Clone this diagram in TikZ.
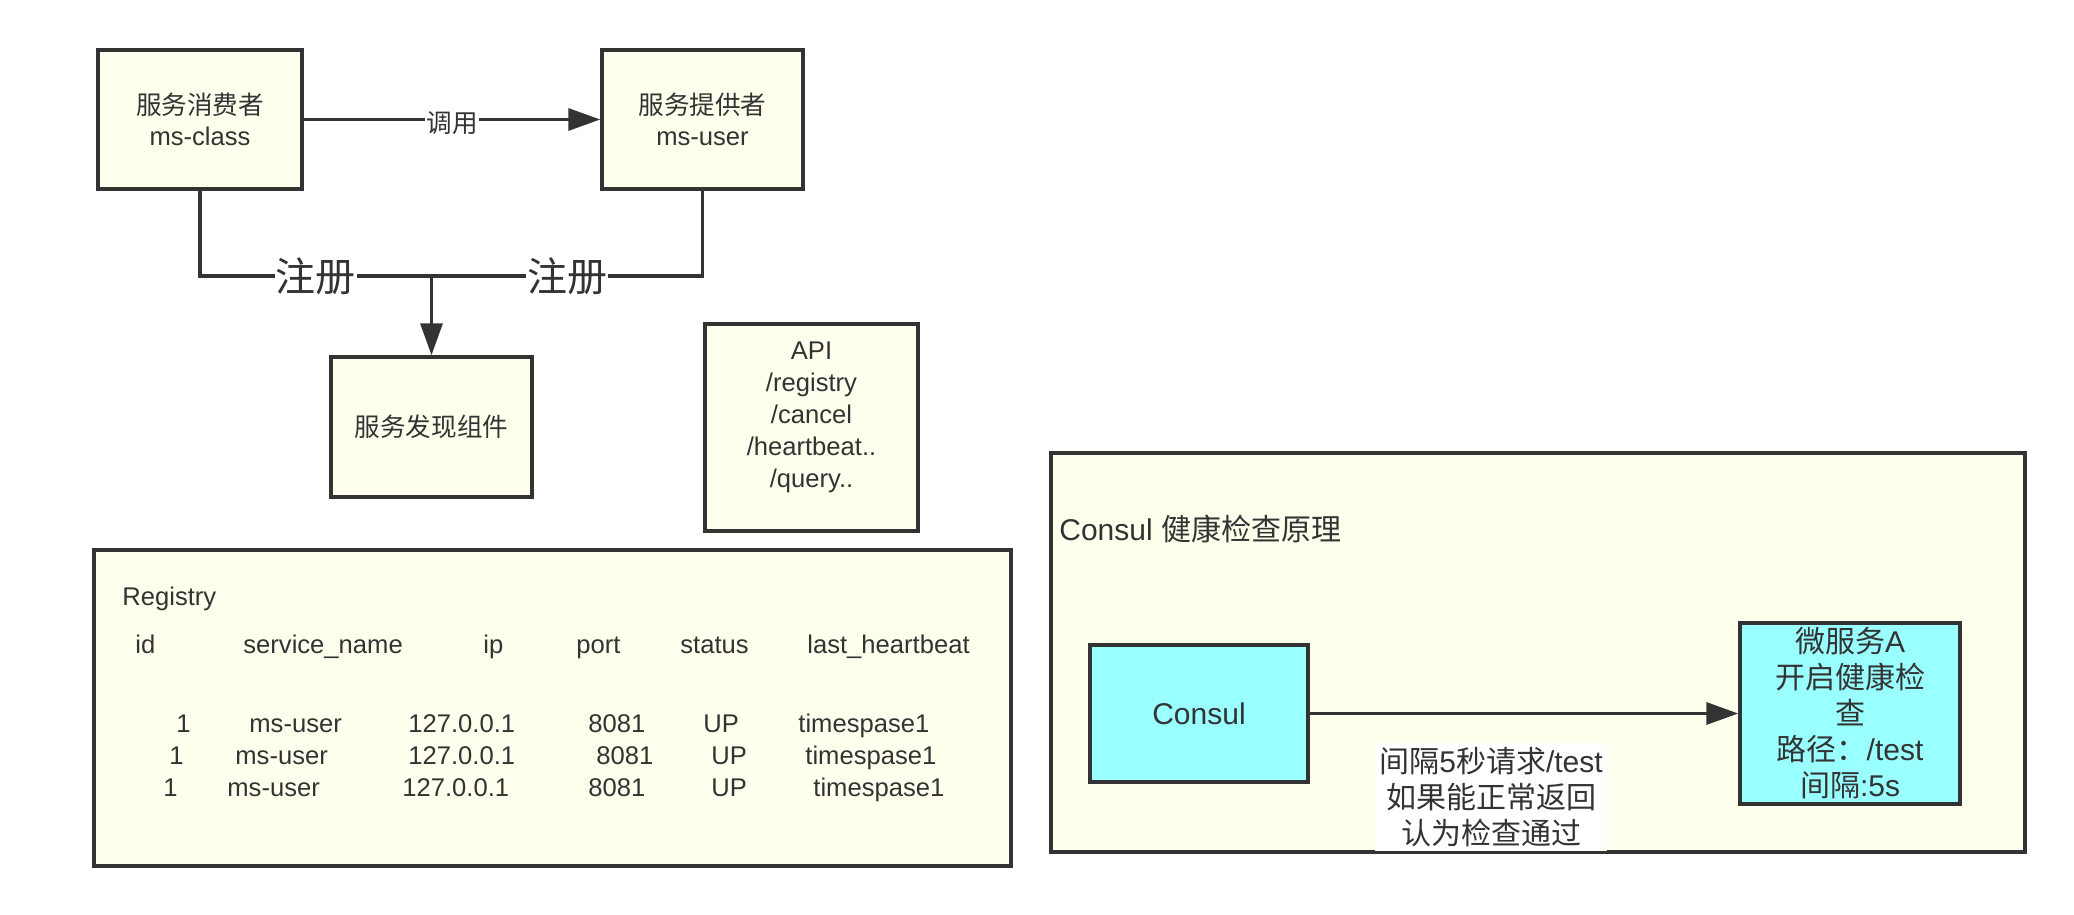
\documentclass[tikz,border=0pt]{standalone}
\usepackage{fontspec}
\setmainfont{Liberation Sans}
\newfontfamily\cjk{Noto Sans CJK SC}
\newcommand{\zh}[1]{{\cjk #1}}
\usetikzlibrary{arrows.meta}
\definecolor{boxfill}{HTML}{FFFFEE}
\definecolor{cyanfill}{HTML}{99FFFF}
\definecolor{linec}{HTML}{333333}
\definecolor{textc}{HTML}{333333}
\begin{document}
\begin{tikzpicture}[x=0.5pt,y=-0.5pt,
  box/.style={draw=linec, line width=1.75pt, fill=boxfill, align=center, text=textc,
    font=\fontsize{12.8pt}{15.5pt}\selectfont, inner sep=0pt},
  cbox/.style={box, fill=cyanfill, font=\fontsize{15pt}{18pt}\selectfont},
  conn/.style={draw=linec, line width=1.75pt},
  arr/.style={conn, -{Triangle[length=16pt,width=11pt]}},
  lab/.style={fill=white, text=textc, inner sep=0.5pt},
  tt/.style={text=textc, font=\fontsize{12.8pt}{15pt}\selectfont, inner sep=0pt, anchor=base west},
]
\useasboundingbox[fill=white] (0,0) rectangle (2074,915);

% top part
\node[box, minimum width=102pt, minimum height=69.5pt] (b1) at (200,119.5) {\zh{服务消费者}\\ms-class};
\node[box, minimum width=100.5pt, minimum height=69.5pt] (b2) at (702.5,119.5) {\zh{服务提供者}\\ms-user};
\node[box, minimum width=100.5pt, minimum height=70pt] (b3) at (431.5,427) {\zh{服务发现组件}};
\node[box, minimum width=106.5pt, minimum height=103.5pt, text depth=13pt,
  font=\fontsize{12.8pt}{16pt}\selectfont] (api) at (811.5,427.5)
  {API\\/registry\\/cancel\\/heartbeat..\\/query..};

\draw[arr] (b1) -- node[lab, font=\fontsize{12.8pt}{15pt}\selectfont, yshift=-2pt] {\zh{调用}} (b2);

\coordinate (jy) at (0,276);
\coordinate (j) at (b3.north |- jy);
\draw[conn] (b1.south) |- node[pos=0.75, lab, font=\fontsize{20pt}{22pt}\selectfont] {\zh{注册}} (j);
\draw[conn] (b2.south) |- node[pos=0.75, lab, font=\fontsize{20pt}{22pt}\selectfont] {\zh{注册}} (j);
\draw[arr] (j) -- (b3.north);

% registry table
\node[box, minimum width=458.5pt, minimum height=158pt] (reg) at (552.5,708) {};
\node[tt] (regt) at (122,605) {Registry};
\node[tt] (h1) at (135,653) {id};
\node[tt] (h2) at (243,653) {service\_name};
\node[tt] (h3) at (483,653) {ip};
\node[tt] (h4) at (576,653) {port};
\node[tt] (h5) at (680,653) {status};
\node[tt] (h6) at (807,653) {last\_heartbeat};

\node[tt] (a1) at (176,732) {1};
\node[tt] (a2) at (249,732) {ms-user};
\node[tt] (a3) at (408,732) {127.0.0.1};
\node[tt] (a4) at (588,732) {8081};
\node[tt] (a5) at (703,732) {UP};
\node[tt] (a6) at (798,732) {timespase1};

\node[tt] (c1) at (169,764) {1};
\node[tt] (c2) at (235,764) {ms-user};
\node[tt] (c3) at (408,764) {127.0.0.1};
\node[tt] (c4) at (596,764) {8081};
\node[tt] (c5) at (711,764) {UP};
\node[tt] (c6) at (805,764) {timespase1};

\node[tt] (d1) at (163,796) {1};
\node[tt] (d2) at (227,796) {ms-user};
\node[tt] (d3) at (402,796) {127.0.0.1};
\node[tt] (d4) at (588,796) {8081};
\node[tt] (d5) at (711,796) {UP};
\node[tt] (d6) at (813,796) {timespase1};

% consul part
\node[box, minimum width=487pt, minimum height=199.5pt] (outer) at (1538,652.5) {};
\node[tt, anchor=west, font=\fontsize{15pt}{17pt}\selectfont] (head) at (1059,529) {Consul \zh{健康检查原理}};
\node[cbox, minimum width=109pt, minimum height=68.5pt] (consul) at (1199,713.5) {Consul};
\node[cbox, minimum width=110pt, minimum height=90.5pt] (msa) at (1850,713.5)
  {\zh{微服务}A\\\zh{开启健康检}\\\zh{查}\\\zh{路径：}/test\\\zh{间隔}:5s};
\draw[arr] (consul) -- (msa);
\node[lab, align=center, inner xsep=2pt, inner ysep=2pt, font=\fontsize{15pt}{18pt}\selectfont] (chk) at (1491,797)
  {\zh{间隔}5\zh{秒请求}/test\\\zh{如果能正常返回}\\\zh{认为检查通过}};
\end{tikzpicture}
\end{document}
